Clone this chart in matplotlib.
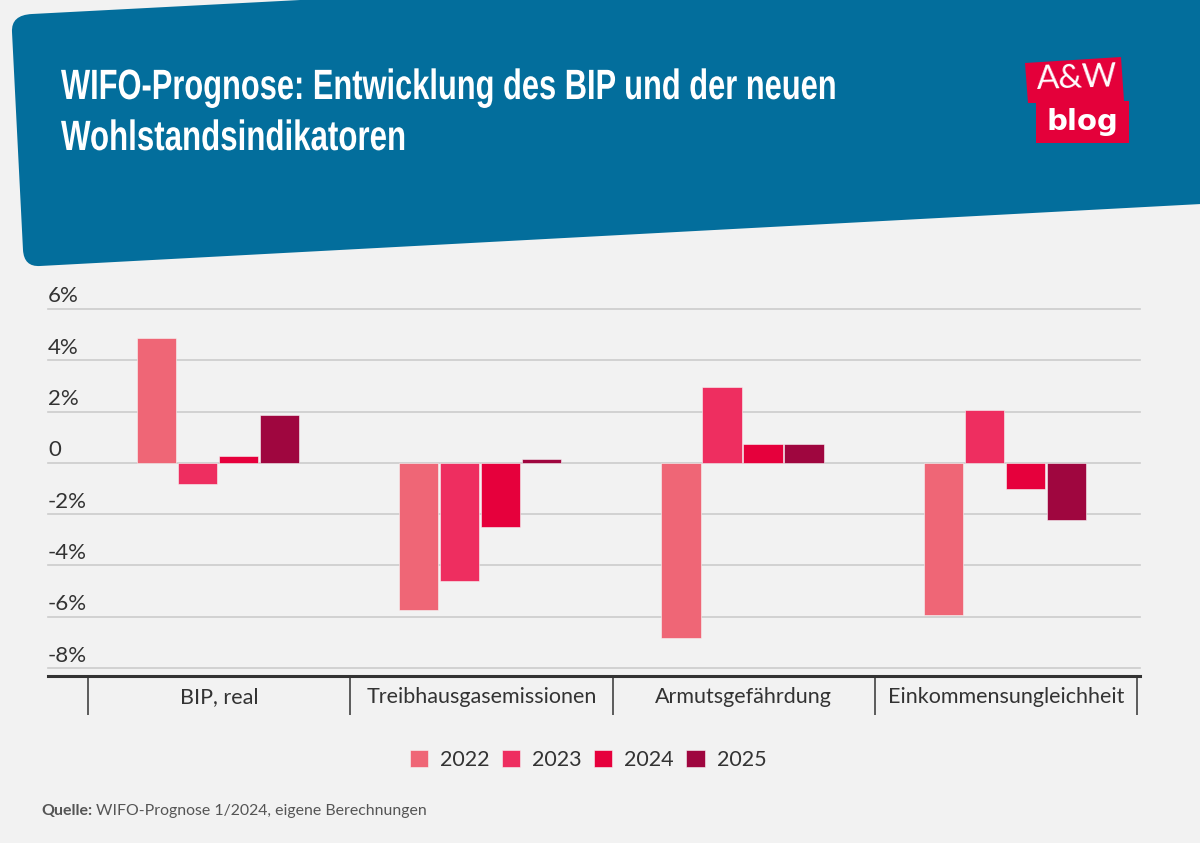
import numpy as np
import matplotlib
matplotlib.use("Agg")
import matplotlib.pyplot as plt
from matplotlib.patches import PathPatch, Polygon
from matplotlib.path import Path
from matplotlib.patheffects import AbstractPathEffect
from matplotlib.transforms import Affine2D

categories = ["BIP, real", "Treibhausgasemissionen", "Armutsgefährdung", "Einkommensungleichheit"]
years = ["2022", "2023", "2024", "2025"]
values_2022 = [4.85, -5.72, -6.82, -5.92]
values_2023 = [-0.82, -4.6, 2.95, 2.05]
values_2024 = [0.25, -2.5, 0.75, -1.0]
values_2025 = [1.85, 0.15, 0.75, -2.22]
y_ticks = [6, 4, 2, 0, -2, -4, -6, -8]
y_labels = ["6%", "4%", "2%", "0", "-2%", "-4%", "-6%", "-8%"]
colors = ["#EF6676", "#EE2E60", "#E6003C", "#9F063F"]

W, H = 1200, 843
BG = "#F2F2F2"
BODY = "Lato"
plt.rcParams["font.family"] = [BODY, "DejaVu Sans"]


class Squeeze(AbstractPathEffect):
    # no condensed font installed, so squeeze the glyphs sideways around x0
    def __init__(self, x0, sx):
        super().__init__()
        self.x0 = x0
        self.sx = sx

    def draw_path(self, renderer, gc, tpath, affine, rgbFace=None):
        squeeze = Affine2D().translate(-self.x0, 0).scale(self.sx, 1).translate(self.x0, 0)
        renderer.draw_path(gc, tpath, affine + squeeze, rgbFace)


fig = plt.figure(figsize=(W / 100, H / 100), dpi=100, facecolor=BG)

# overlay in pixel coordinates for the header and logo
bg = fig.add_axes([0, 0, 1, 1], zorder=5)
bg.set_xlim(0, W)
bg.set_ylim(H, 0)
bg.axis("off")

header = Path(
    [(32, 14), (1220, -48), (1220, 203), (40, 266), (24, 267), (23, 250), (12, 32), (11, 15), (32, 14), (32, 14)],
    [Path.MOVETO, Path.LINETO, Path.LINETO, Path.LINETO, Path.CURVE3, Path.CURVE3, Path.LINETO, Path.CURVE3, Path.CURVE3, Path.CLOSEPOLY],
)
bg.add_patch(PathPatch(header, facecolor="#036E9C", edgecolor="none"))

title_font = ["Liberation Sans", "DejaVu Sans"]
for line, base, sx in [("WIFO-Prognose: Entwicklung des BIP und der neuen", 99, 0.728), ("Wohlstandsindikatoren", 150, 0.738)]:
    bg.text(61, base, line, color="white", fontsize=30.5, fontweight="bold", family=title_font,
            va="baseline", ha="left", path_effects=[Squeeze(61, sx)])

# logo
bg.add_patch(Polygon([(1025, 63), (1121, 57), (1124, 101), (1129, 101), (1129, 143), (1036, 143), (1036, 103), (1028, 103)],
                     facecolor="#E4003A", edgecolor="none"))
bg.text(1077, 79, "A&W", color="white", fontsize=24, family=BODY,
        ha="center", va="center", rotation=2)
bg.text(1082, 130, "blog", color="white", fontsize=21, family="DejaVu Sans", fontweight="bold",
        ha="center", va="baseline")

# chart axes, bottom line at y=676, top gridline at y=309
ax = fig.add_axes([48 / W, 1 - 676 / H, (1140 - 48) / W, (676 - 309) / H], facecolor="none")

x = np.arange(len(categories))
step = 0.1565
bar_w = 0.15
series = [values_2022, values_2023, values_2024, values_2025]
handles = []
for i, vals in enumerate(series):
    b = ax.bar(x + (i - 1.5) * step - 0.005, vals, bar_w, color=colors[i], edgecolor="#F7F7F7",
               linewidth=0.4, label=years[i], zorder=3)
    handles.append(b)

ax.set_xlim(-0.6525, 3.51)
ax.set_ylim(-8.31, 6)

ax.set_yticks(y_ticks)
ax.set_yticklabels([])
ax.tick_params(axis="y", length=0)
ax.yaxis.grid(True, color="#CCCCCC", linewidth=1.2, zorder=1)
ax.set_axisbelow(True)
for gl in ax.get_ygridlines():
    gl.set_clip_on(False)

for v, lab in zip(y_ticks, y_labels):
    ax.annotate(lab, xy=(0, v), xycoords=ax.get_yaxis_transform(), xytext=(0, 9),
                textcoords="offset points", ha="left", va="center", fontsize=16, color="#333333")

ax.set_xticks(x)
ax.set_xticklabels(categories, fontsize=15.5, color="#333333")
ax.tick_params(axis="x", which="major", length=0, pad=8)
ax.set_xticks(np.arange(len(categories) + 1) - 0.5, minor=True)
ax.tick_params(axis="x", which="minor", length=28, width=1.1, color="#333333")

for s in ["top", "left", "right"]:
    ax.spines[s].set_visible(False)
ax.spines["bottom"].set_linewidth(2.2)
ax.spines["bottom"].set_color("#333333")

leg = fig.legend(handles=handles, labels=years, loc="center", bbox_to_anchor=(588 / W, 1 - 760 / H),
                 ncol=4, frameon=False, fontsize=15.5, handlelength=0.84, handleheight=0.84,
                 handletextpad=0.56, columnspacing=0.58, labelcolor="#333333")

# source line
bg.text(41, 811, "Quelle:", fontsize=11.5, fontweight="bold", color="#555555", va="center", ha="left")
bg.text(96, 811, "WIFO-Prognose 1/2024, eigene Berechnungen", fontsize=11.45, color="#555555", va="center", ha="left")

fig.savefig("out.png", dpi=100, facecolor=BG)
